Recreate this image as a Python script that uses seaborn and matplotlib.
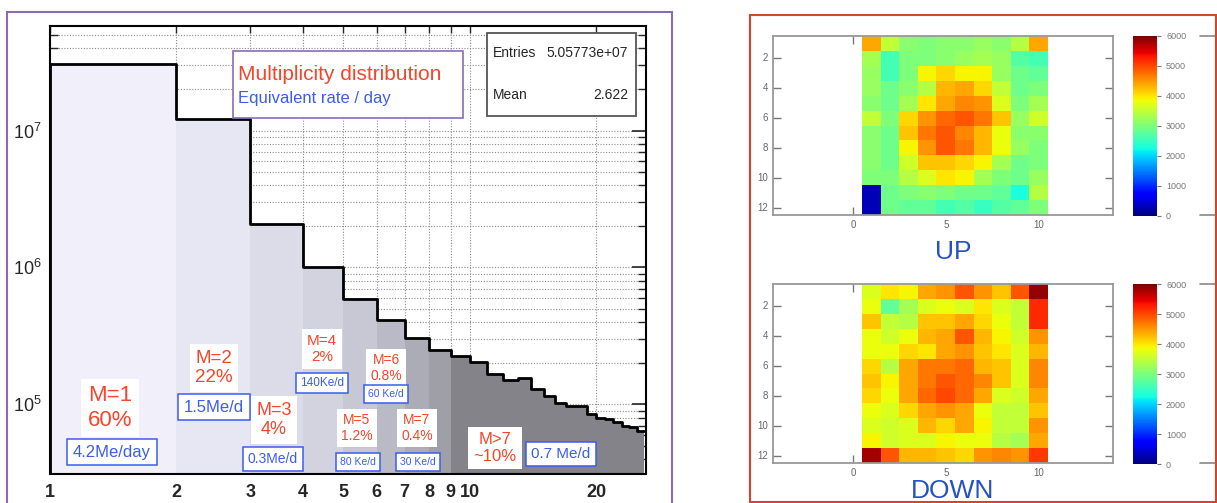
import numpy as np
import pandas as pd
import seaborn as sns
import matplotlib.pyplot as plt
from matplotlib.patches import Rectangle
from matplotlib.lines import Line2D
from matplotlib.ticker import FixedLocator, LogLocator, NullFormatter, NullLocator

# ====================================================================================================
# ===== Data =========================================================================================
# ====================================================================================================

# multiplicity histogram: integer bins [1,2), [2,3) ... [25,26)
mult_edges = list(range(1, 27))
mult_counts = [3.08e7, 1.22e7, 2.06e6, 1.0e6, 5.84e5, 4.1e5, 3.03e5, 2.48e5, 2.24e5, 2.03e5,
               1.66e5, 1.50e5, 1.57e5, 1.29e5, 1.16e5, 1.03e5, 9.7e4, 9.8e4, 8.5e4, 7.9e4,
               7.8e4, 7.4e4, 7.0e4, 6.8e4, 6.4e4]

entries = '5.05773e+07'
mean_value = '2.622'

mult_labels = ['M=1\n60%', 'M=2\n22%', 'M=3\n4%', 'M=4\n2%', 'M=5\n1.2%', 'M=6\n0.8%', 'M=7\n0.4%', 'M>7\n~10%']
rate_labels = ['4.2Me/day', '1.5Me/d', '0.3Me/d', '140Ke/d', '80 Ke/d', '60 Ke/d', '30 Ke/d', '0.7 Me/d']

# hit maps, 12 rows x 10 columns
up_map = [
    [4400, 3500, 3100, 3000, 3100, 3100, 3200, 3100, 3400, 4400],
    [3300, 2600, 3000, 3000, 3100, 3200, 3300, 3200, 2700, 2600],
    [3200, 2600, 3000, 3900, 4100, 3900, 3900, 3200, 2900, 2800],
    [3200, 2900, 3100, 3400, 4300, 4400, 4100, 3500, 2900, 3000],
    [3100, 2900, 3300, 4000, 4400, 4600, 4500, 3700, 3000, 3300],
    [3500, 3000, 4100, 4500, 4800, 4900, 4700, 4200, 3200, 3600],
    [3100, 2900, 4200, 4700, 4900, 4600, 4300, 3800, 3100, 3100],
    [3100, 2900, 3900, 4500, 4900, 4700, 4300, 3800, 3200, 3000],
    [3100, 2900, 3600, 4200, 4200, 4100, 3900, 3300, 2900, 3000],
    [3000, 3000, 3400, 3700, 4000, 3900, 3300, 3000, 2900, 3200],
    [300, 2900, 3000, 3100, 3000, 2900, 2900, 2800, 2300, 3400],
    [300, 2900, 2800, 2800, 2600, 2700, 2500, 2700, 2800, 3000],
]
down_map = [
    [3700, 4000, 3900, 4400, 4500, 4900, 4500, 4200, 4900, 5900],
    [3800, 2800, 3300, 3700, 3800, 3700, 4000, 3700, 3500, 5200],
    [4200, 3500, 3400, 4200, 4200, 4400, 4100, 3800, 3500, 5200],
    [3800, 3600, 3800, 4300, 4400, 4900, 4300, 3900, 3600, 4500],
    [3800, 3800, 4100, 4000, 4400, 4500, 4200, 4000, 3700, 4300],
    [4100, 3400, 4400, 4700, 4700, 4800, 4300, 4200, 3700, 4600],
    [4200, 3900, 4400, 4700, 4900, 4800, 4600, 4200, 3700, 4600],
    [4100, 3800, 4400, 4800, 5000, 4800, 4400, 3700, 3600, 4400],
    [3800, 3700, 4100, 4400, 4500, 4400, 3800, 3500, 3500, 4200],
    [3700, 3600, 3700, 4300, 4100, 4400, 3900, 3500, 3500, 4500],
    [3900, 3600, 3700, 3700, 3900, 3800, 3800, 3400, 3300, 4400],
    [5800, 4900, 4300, 4300, 4200, 4100, 4500, 4600, 4500, 5100],
]

# ====================================================================================================
# ===== Styling ======================================================================================
# ====================================================================================================

sns.set_style('white')
plt.rcParams['font.family'] = ['Liberation Sans', 'DejaVu Sans']
plt.rcParams['mathtext.default'] = 'regular'

W, H = 1217, 503
RED = '#f5452b'
BLUE = '#3b5cf0'
bin_shades = ['#f1f0fa', '#e7e7f3', '#dcdce9', '#d3d3df', '#c8c8d4', '#babac6', '#acacb6', '#9f9fa8', '#838389']

fig = plt.figure(figsize=(W / 100, H / 100), dpi=100)


def fx(px):
    return px / W


def fy(py):
    return 1 - py / H


# ====================================================================================================
# ===== Left panel: multiplicity distribution ========================================================
# ====================================================================================================

ax = fig.add_axes([fx(50), fy(474), fx(596), 448 / H])
ax.set_xscale('log')
ax.set_yscale('log')
ax.set_xlim(1, 26.3)
ax.set_ylim(3.1e4, 5.8e7)

hist = pd.DataFrame({'low': mult_edges[:-1], 'count': mult_counts})
hist['width'] = np.diff(mult_edges)
hist['shade'] = [bin_shades[min(i, len(bin_shades) - 1)] for i in range(len(hist))]
ax.bar(hist['low'], hist['count'], width=hist['width'], align='edge', color=hist['shade'],
       linewidth=0, zorder=1)

outline = pd.DataFrame({'x': [mult_edges[0]] + mult_edges,
                        'y': [ax.get_ylim()[0]] + mult_counts + [mult_counts[-1]]})
sns.lineplot(data=outline, x='x', y='y', estimator=None, sort=False, drawstyle='steps-post',
             color='black', linewidth=2, ax=ax, zorder=3)

xt = [1, 2, 3, 4, 5, 6, 7, 8, 9, 10, 20]
ax.xaxis.set_major_locator(FixedLocator(xt))
ax.xaxis.set_minor_locator(NullLocator())
ax.set_xticklabels([str(v) for v in xt], fontweight='bold', fontsize=13)
ax.yaxis.set_major_locator(LogLocator(base=10))
ax.yaxis.set_minor_locator(LogLocator(base=10, subs=range(2, 10)))
ax.yaxis.set_minor_formatter(NullFormatter())
ax.tick_params(axis='y', which='major', direction='in', left=True, right=True, length=10,
               width=1.2, labelsize=13, pad=6)
ax.tick_params(axis='y', which='minor', direction='in', left=True, right=True, length=6, width=1)
ax.tick_params(axis='x', which='major', direction='in', top=True, bottom=True, length=5,
               width=1, pad=7)
ax.set_axisbelow(True)
ax.grid(True, axis='y', which='both', linestyle=(0, (1, 1.5)), color='#8a8a8a', linewidth=0.8)
ax.grid(True, axis='x', which='major', linestyle=(0, (1, 1.5)), color='#8a8a8a', linewidth=0.8)
ax.set_xlabel('')
ax.set_ylabel('')
for s in ax.spines.values():
    s.set_visible(True)
    s.set_color('black')
    s.set_linewidth(1.5)

# title box
fig.add_artist(Rectangle((fx(233), fy(118)), fx(230), 67 / H, transform=fig.transFigure,
                         facecolor='white', edgecolor='#8a6cb8', linewidth=1.2, zorder=5))
fig.text(fx(238), fy(75), 'Multiplicity distribution', color=RED, fontsize=15,
         ha='left', va='center', zorder=6)
fig.text(fx(238), fy(99), 'Equivalent rate / day', color=BLUE, fontsize=12,
         ha='left', va='center', zorder=6)

# stats box
fig.add_artist(Rectangle((fx(487), fy(116)), fx(149), 83 / H, transform=fig.transFigure,
                         facecolor='white', edgecolor='#555555', linewidth=1.3, zorder=5))
fig.text(fx(493), fy(53), 'Entries', fontsize=10, ha='left', va='center', zorder=6)
fig.text(fx(628), fy(53), entries, fontsize=10, ha='right', va='center', zorder=6)
fig.text(fx(493), fy(95), 'Mean', fontsize=10, ha='left', va='center', zorder=6)
fig.text(fx(628), fy(95), mean_value, fontsize=10, ha='right', va='center', zorder=6)

# annotations: (x, y, size) in pixels
mult_pos = [(110, 408, 16), (214, 368, 13.5), (274, 420, 13), (322, 349, 11),
            (357, 428, 10), (386, 368, 10), (417, 428, 10), (495, 448, 12)]
rate_pos = [(112, 452, 12), (214, 407, 12), (273, 459, 10), (322, 383, 8.5),
            (358, 462, 7.5), (386, 394, 7.5), (418, 462, 7.5), (561, 454, 11)]
for lbl, (x, y, s) in zip(mult_labels, mult_pos):
    fig.text(fx(x), fy(y), lbl, color=RED, fontsize=s, ha='center', va='center',
             linespacing=1.2, zorder=6,
             bbox=dict(boxstyle='square,pad=0.3', facecolor='white', edgecolor='none'))
for lbl, (x, y, s) in zip(rate_labels, rate_pos):
    fig.text(fx(x), fy(y), lbl, color=BLUE, fontsize=s, ha='center', va='center', zorder=6,
             bbox=dict(boxstyle='square,pad=0.35', facecolor='white', edgecolor=BLUE, linewidth=1.1))

# ====================================================================================================
# ===== Right panel: hit maps ========================================================================
# ====================================================================================================


def draw_map(values, top, name, name_y):
    hax = fig.add_axes([fx(773), fy(top + 179), fx(340), 179 / H])
    cax = fig.add_axes([fx(1133), fy(top + 180), fx(24), 180 / H])
    frame = pd.DataFrame(values, index=range(1, 13), columns=range(1, 11))
    sns.heatmap(frame, ax=hax, cbar_ax=cax, cmap='jet', vmin=0, vmax=6000,
                cbar_kws={'ticks': list(range(0, 7000, 1000))})
    hax.set_xlim(-4.8, 13.5)
    hax.set_ylim(12, 0)
    hax.set_xticks([-0.5, 4.5, 9.5], ['0', '5', '10'], rotation=0)
    hax.set_yticks(np.arange(1.5, 12, 2), [str(v) for v in range(2, 13, 2)], rotation=0)
    hax.tick_params(direction='in', length=6, width=1, color='#777777', labelcolor='#666666',
                    labelsize=7, top=True, right=True, bottom=True, left=True)
    hax.set_xlabel('')
    hax.set_ylabel('')
    for s in hax.spines.values():
        s.set_visible(True)
        s.set_color('#999999')
        s.set_linewidth(1.3)
    cax.tick_params(labelsize=6.5, labelcolor='#777777', color='#777777', length=3)
    cbar = hax.collections[0].colorbar
    if cbar is not None:
        cbar.outline.set_edgecolor('#999999')
    fig.text(fx(953), fy(name_y), name, color='#2452c4', fontsize=19, ha='center', va='center')
    for py in (top, top + 179):
        fig.add_artist(Line2D([fx(1200), fx(1217)], [fy(py), fy(py)], color='#888888', lw=1.2))


draw_map(up_map, 36, 'UP', 252)
draw_map(down_map, 284, 'DOWN', 491)

# panel frames
fig.add_artist(Rectangle((fx(7), fy(515)), fx(665), 503 / H, transform=fig.transFigure,
                         facecolor='none', edgecolor='#8c6bb3', linewidth=1.5, zorder=7))
fig.add_artist(Rectangle((fx(750), fy(502)), fx(466), 487 / H, transform=fig.transFigure,
                         facecolor='none', edgecolor='#d4452c', linewidth=1.5, zorder=7))

fig.savefig('out.png', dpi=100)
